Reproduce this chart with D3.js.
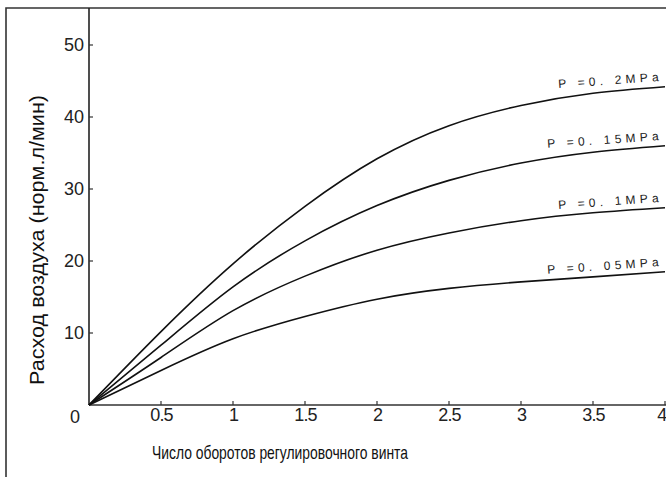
<!DOCTYPE html>
<html>
<head>
<meta charset="utf-8">
<script src="https://cdn.jsdelivr.net/npm/d3@7"></script>
<style>
  body { margin: 0; background: #fff; }
  svg { display: block; }
  .tick-text { font-family: "Liberation Sans", Arial, sans-serif; font-size: 18px; fill: #222; }
  .title-text { font-family: "Liberation Sans", Arial, sans-serif; fill: #111; }
  .curve-label { font-family: "Liberation Sans", Arial, sans-serif; font-size: 12px; fill: #222; letter-spacing: 4.2px; }
</style>
</head>
<body>
<div id="chart"></div>
<script>
// data
var turns = [0, 0.5, 1, 1.5, 2, 2.5, 3, 3.5, 4];
var p02  = [0, 10.2, 19.6, 27.6, 34.2, 38.8, 41.6, 43.3, 44.2];
var p015 = [0, 8.3, 16.4, 22.8, 27.7, 31.2, 33.6, 35.1, 36.0];
var p01  = [0, 6.6, 13.1, 17.9, 21.5, 23.9, 25.6, 26.7, 27.4];
var p005 = [0, 4.8, 9.2, 12.3, 14.7, 16.2, 17.1, 17.8, 18.5];
var seriesNames = ["P =0. 2MPa", "P =0. 15MPa", "P =0. 1MPa", "P =0. 05MPa"];
var xTicks = [0.5, 1, 1.5, 2, 2.5, 3, 3.5, 4];
var yTicks = [0, 10, 20, 30, 40, 50];
var xTitle = "Число оборотов регулировочного винта";
var yTitle = "Расход воздуха (норм.л/мин)";

var W = 666, H = 477;
var margin = {top: 8, right: 1, bottom: 72, left: 89};

var svg = d3.select("#chart")
  .append("svg")
  .attr("width", W)
  .attr("height", H);

// scales
var x = d3.scaleLinear().domain([0, 4]).range([margin.left, W - margin.right]);
var y = d3.scaleLinear().domain([0, 50]).range([405, 45]);

// frame (left and top only)
svg.append("path")
  .attr("d", "M6," + H + "V8H" + W)
  .attr("fill", "none")
  .attr("stroke", "#333")
  .attr("stroke-width", 1.6);

// axes
var xAxis = d3.axisBottom(x).tickValues(xTicks).tickSize(0).tickPadding(3)
  .tickFormat(function(d) { return d; });
var yAxis = d3.axisLeft(y).tickValues(yTicks).tickSize(0).tickPadding(5);

var gx = svg.append("g")
  .attr("transform", "translate(0," + y(0) + ")")
  .call(xAxis);
gx.select(".domain").remove();
gx.selectAll("text").attr("class", "tick-text").attr("fill", null)
  .attr("font-size", null).attr("font-family", null).attr("dy", "0.7em").style("letter-spacing", "-0.8px");
// last label sits on the right edge
gx.selectAll(".tick").filter(function(d) { return d === 4; }).select("text")
  .attr("text-anchor", "end").attr("x", 1);

var gy = svg.append("g")
  .attr("transform", "translate(" + x(0) + ",0)")
  .call(yAxis);
gy.select(".domain").remove();
gy.selectAll("text").attr("class", "tick-text").attr("fill", null)
  .attr("font-size", null).attr("font-family", null);
gy.selectAll(".tick").filter(function(d) { return d === 0; }).select("text")
  .attr("x", -9).attr("dy", "0.95em");

// axis lines
svg.append("line")
  .attr("x1", x(0)).attr("x2", x(0))
  .attr("y1", 8).attr("y2", y(0))
  .attr("stroke", "#222").attr("stroke-width", 1.6);
svg.append("line")
  .attr("x1", x(0)).attr("x2", W)
  .attr("y1", y(0)).attr("y2", y(0))
  .attr("stroke", "#333").attr("stroke-width", 1.6);

// inner tick marks
svg.selectAll(".xtm").data(xTicks).enter().append("line")
  .attr("x1", function(d) { return x(d); }).attr("x2", function(d) { return x(d); })
  .attr("y1", y(0)).attr("y2", y(0) - 4)
  .attr("stroke", "#333").attr("stroke-width", 1.2);
svg.selectAll(".ytm").data(yTicks.slice(1)).enter().append("line")
  .attr("x1", x(0)).attr("x2", x(0) + 4)
  .attr("y1", function(d) { return y(d); }).attr("y2", function(d) { return y(d); })
  .attr("stroke", "#333").attr("stroke-width", 1.2);

// curves
var series = [p02, p015, p01, p005];
var line = d3.line()
  .x(function(d, i) { return x(turns[i]); })
  .y(function(d) { return y(d); })
  .curve(d3.curveNatural);

svg.selectAll(".curve").data(series).enter().append("path")
  .attr("class", "curve")
  .attr("d", line)
  .attr("fill", "none")
  .attr("stroke", "#111")
  .attr("stroke-width", 1.6);

// curve labels at the right end
svg.selectAll(".curve-label").data(series).enter().append("text")
  .attr("class", "curve-label")
  .attr("text-anchor", "end")
  .attr("transform", function(d) {
    return "translate(" + (x(4) - 2) + "," + (y(d[d.length - 1]) - 6) + ") rotate(-4)";
  })
  .text(function(d, i) { return seriesNames[i]; });

// titles
svg.append("text")
  .attr("class", "title-text")
  .attr("x", 280).attr("y", 459)
  .attr("text-anchor", "middle")
  .attr("font-size", 18.5)
  .attr("textLength", 256)
  .attr("lengthAdjust", "spacingAndGlyphs")
  .text(xTitle);

svg.append("text")
  .attr("class", "title-text")
  .attr("transform", "translate(44,240) rotate(-90)")
  .attr("text-anchor", "middle")
  .attr("font-size", 20)
  .attr("textLength", 290)
  .attr("lengthAdjust", "spacingAndGlyphs")
  .text(yTitle);
</script>
</body>
</html>
